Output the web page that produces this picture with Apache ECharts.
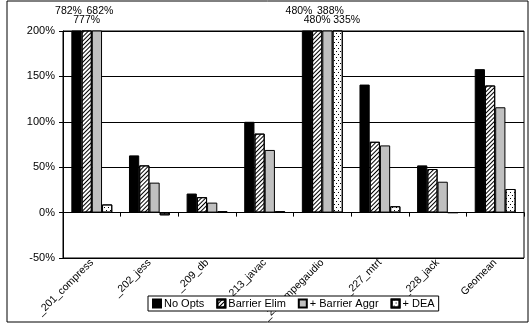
<!DOCTYPE html>
<html><head><meta charset="utf-8">
<script src="https://cdn.jsdelivr.net/npm/echarts@6/dist/echarts.min.js"></script>
<style>html,body{margin:0;padding:0;background:#fff}#c{width:530px;height:325px}</style>
</head><body><div id="c"></div>
<script>
const categories = ['_201_compress','_202_jess','_209_db','_213_javac','_222_mpegaudio','_227_mtrt','_228_jack','Geomean'];
const seriesNames = ['No Opts','Barrier Elim','+ Barrier Aggr','+ DEA'];
const noOpts      = [782, 63, 21, 100, 480, 141, 52, 158];
const barrierElim = [777, 52, 17, 87, 480, 78, 48, 140];
const barrierAggr = [682, 33, 11, 69, 388, 74, 34, 116];
const dea         = [9, -3, 1.5, 1.5, 335, 7, 0, 26];
const yTicks = [-50, 0, 50, 100, 150, 200];

const F = '"Liberation Sans", Arial, sans-serif';
const chart = echarts.init(document.getElementById('c'), null, {renderer:'canvas'});
const styles = [
  {color:'#000', borderColor:'#000', borderWidth:1},
  {color:'#fff', borderColor:'#000', borderWidth:1,
   decal:{symbol:'rect', color:'#000', dashArrayX:[1,0], dashArrayY:[1,2], rotation:-Math.PI/4}},
  {color:'#c0c0c0', borderColor:'#000', borderWidth:1},
  {color:'#fff', borderColor:'#000', borderWidth:1,
   decal:{symbol:'rect', symbolSize:1, color:'#000', dashArrayX:[[1,3],[0,2,1,1]], dashArrayY:[1,2]}}
];
const labelDist = [14, 5, 14, 5];
const labelDx = [-8, 0, 3, 9];
const data = [noOpts, barrierElim, barrierAggr, dea];
chart.setOption({
  animation:false,
  textStyle:{fontFamily:F},
  graphic:[{type:'rect', shape:{x:7,y:1,width:521,height:321}, style:{fill:null, stroke:'#000', lineWidth:1}, silent:true, z:-1}],
  grid:{left:63, right:6, top:31, bottom:67, show:true, borderColor:'#000', borderWidth:1},
  legend:{bottom:14, left:148, itemWidth:8, itemHeight:8, itemGap:12, backgroundColor:'#fff', z:10,
    borderColor:'#000', borderWidth:1, padding:[2,4], icon:'rect',
    textStyle:{fontSize:11, color:'#000', fontFamily:F, padding:[0,0,0,-2]}, data:seriesNames},
  xAxis:{type:'category', data:categories,
    axisLine:{onZero:true, lineStyle:{color:'#000'}},
    axisTick:{show:true, length:4, lineStyle:{color:'#000'}},
    axisLabel:{rotate:45, fontSize:10.5, color:'#000', margin:3, interval:0, fontFamily:F}},
  yAxis:{type:'value', min:-50, max:200, interval:50,
    axisLine:{show:true, lineStyle:{color:'#000'}},
    axisTick:{show:true, length:4, lineStyle:{color:'#000'}},
    splitLine:{show:true, lineStyle:{color:'#000'}},
    axisLabel:{formatter: v => yTicks.includes(v) ? v + '%' : '', fontSize:11, color:'#000', margin:8, fontFamily:F}},
  series: seriesNames.map((n,i)=>({
    name:n, type:'bar', data:data[i], barGap:'0%', barCategoryGap:'29%', clip:true,
    itemStyle:styles[i],
    label:{show:true, position:'top', distance:labelDist[i], offset:[labelDx[i],0], fontSize:10.5, color:'#000', fontFamily:F,
      formatter: p => p.value > 200 ? p.value + '%' : ''}
  }))
});
</script></body></html>
